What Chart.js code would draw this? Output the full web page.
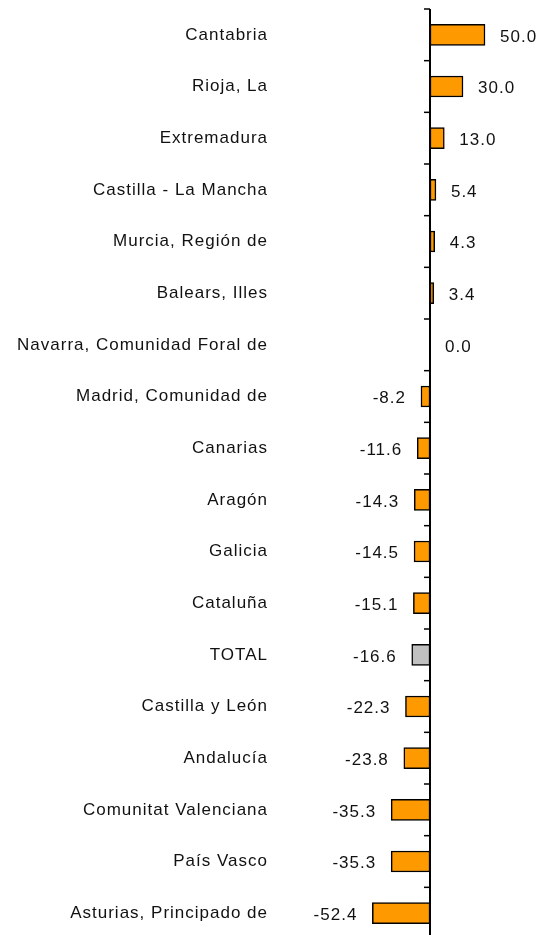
<!DOCTYPE html>
<html>
<head>
<meta charset="utf-8">
<script src="https://cdn.jsdelivr.net/npm/chart.js@4/dist/chart.umd.min.js"></script>
<style>
  html, body { margin: 0; padding: 0; background: #fff; height: 935px; overflow: hidden; }
  canvas { display: block; }
</style>
</head>
<body>
<canvas id="myChart" width="542" height="940"></canvas>
<script>
var regions = ['Cantabria', 'Rioja, La', 'Extremadura', 'Castilla - La Mancha', 'Murcia, Región de',
  'Balears, Illes', 'Navarra, Comunidad Foral de', 'Madrid, Comunidad de', 'Canarias', 'Aragón',
  'Galicia', 'Cataluña', 'TOTAL', 'Castilla y León', 'Andalucía', 'Comunitat Valenciana',
  'País Vasco', 'Asturias, Principado de'];
var variation = [50.0, 30.0, 13.0, 5.4, 4.3, 3.4, 0.0, -8.2, -11.6, -14.3, -14.5, -15.1, -16.6,
  -22.3, -23.8, -35.3, -35.3, -52.4];
var totalLabel = 'TOTAL';

var barColors = regions.map(function(r) { return r === totalLabel ? '#c0c0c0' : '#ff9900'; });

// axis line at zero + small ticks between categories, and value labels
var axisPlugin = {
  id: 'axisAndLabels',
  beforeDraw: function(chart) {
    chart.ctx.letterSpacing = '1px';
  },
  afterDatasetsDraw: function(chart) {
    var ctx = chart.ctx;
    var x = chart.scales.x, y = chart.scales.y;
    var x0 = x.getPixelForValue(0);
    var area = chart.chartArea;
    ctx.save();
    ctx.strokeStyle = '#000';
    ctx.lineWidth = 2;
    ctx.beginPath();
    ctx.moveTo(x0, area.top);
    ctx.lineTo(x0, area.bottom);
    ctx.stroke();
    ctx.lineWidth = 1.5;
    for (var i = 0; i <= regions.length; i++) {
      var yy = y.getPixelForValue(i - 0.5);
      ctx.beginPath();
      ctx.moveTo(x0 - 6, yy);
      ctx.lineTo(x0, yy);
      ctx.stroke();
    }

    ctx.font = '17px "Liberation Sans", Arial, sans-serif';
    ctx.fillStyle = '#111';
    ctx.textBaseline = 'middle';
    var meta = chart.getDatasetMeta(0);
    meta.data.forEach(function(bar, i) {
      var v = variation[i];
      var txt = v.toFixed(1);
      if (v < 0) {
        ctx.textAlign = 'right';
        ctx.fillText(txt, bar.x - 15, bar.y + 2);
      } else {
        ctx.textAlign = 'left';
        ctx.fillText(txt, bar.x + 15, bar.y + 2);
      }
    });
    ctx.restore();
  }
};

new Chart(document.getElementById('myChart'), {
  type: 'bar',
  data: {
    labels: regions,
    datasets: [{
      data: variation,
      backgroundColor: barColors,
      borderColor: '#000',
      borderWidth: 1.5,
      borderSkipped: false,
      barThickness: 21
    }]
  },
  options: {
    indexAxis: 'y',
    responsive: false,
    animation: false,
    devicePixelRatio: 1,
    layout: { padding: { top: 9, bottom: 1, left: 0, right: 2 } },
    plugins: {
      legend: { display: false },
      tooltip: { enabled: false }
    },
    scales: {
      x: {
        display: false,
        min: -140,
        max: 100
      },
      y: {
        grid: { display: false, drawTicks: false },
        border: { display: false },
        afterFit: function(scale) {
          scale.width = 276;
          scale.paddingTop = 0;
          scale.paddingBottom = 0;
        },
        ticks: {
          padding: 8,
          color: '#111',
          font: { family: '"Liberation Sans", Arial, sans-serif', size: 17 }
        }
      }
    }
  },
  plugins: [axisPlugin]
});
</script>
</body>
</html>
